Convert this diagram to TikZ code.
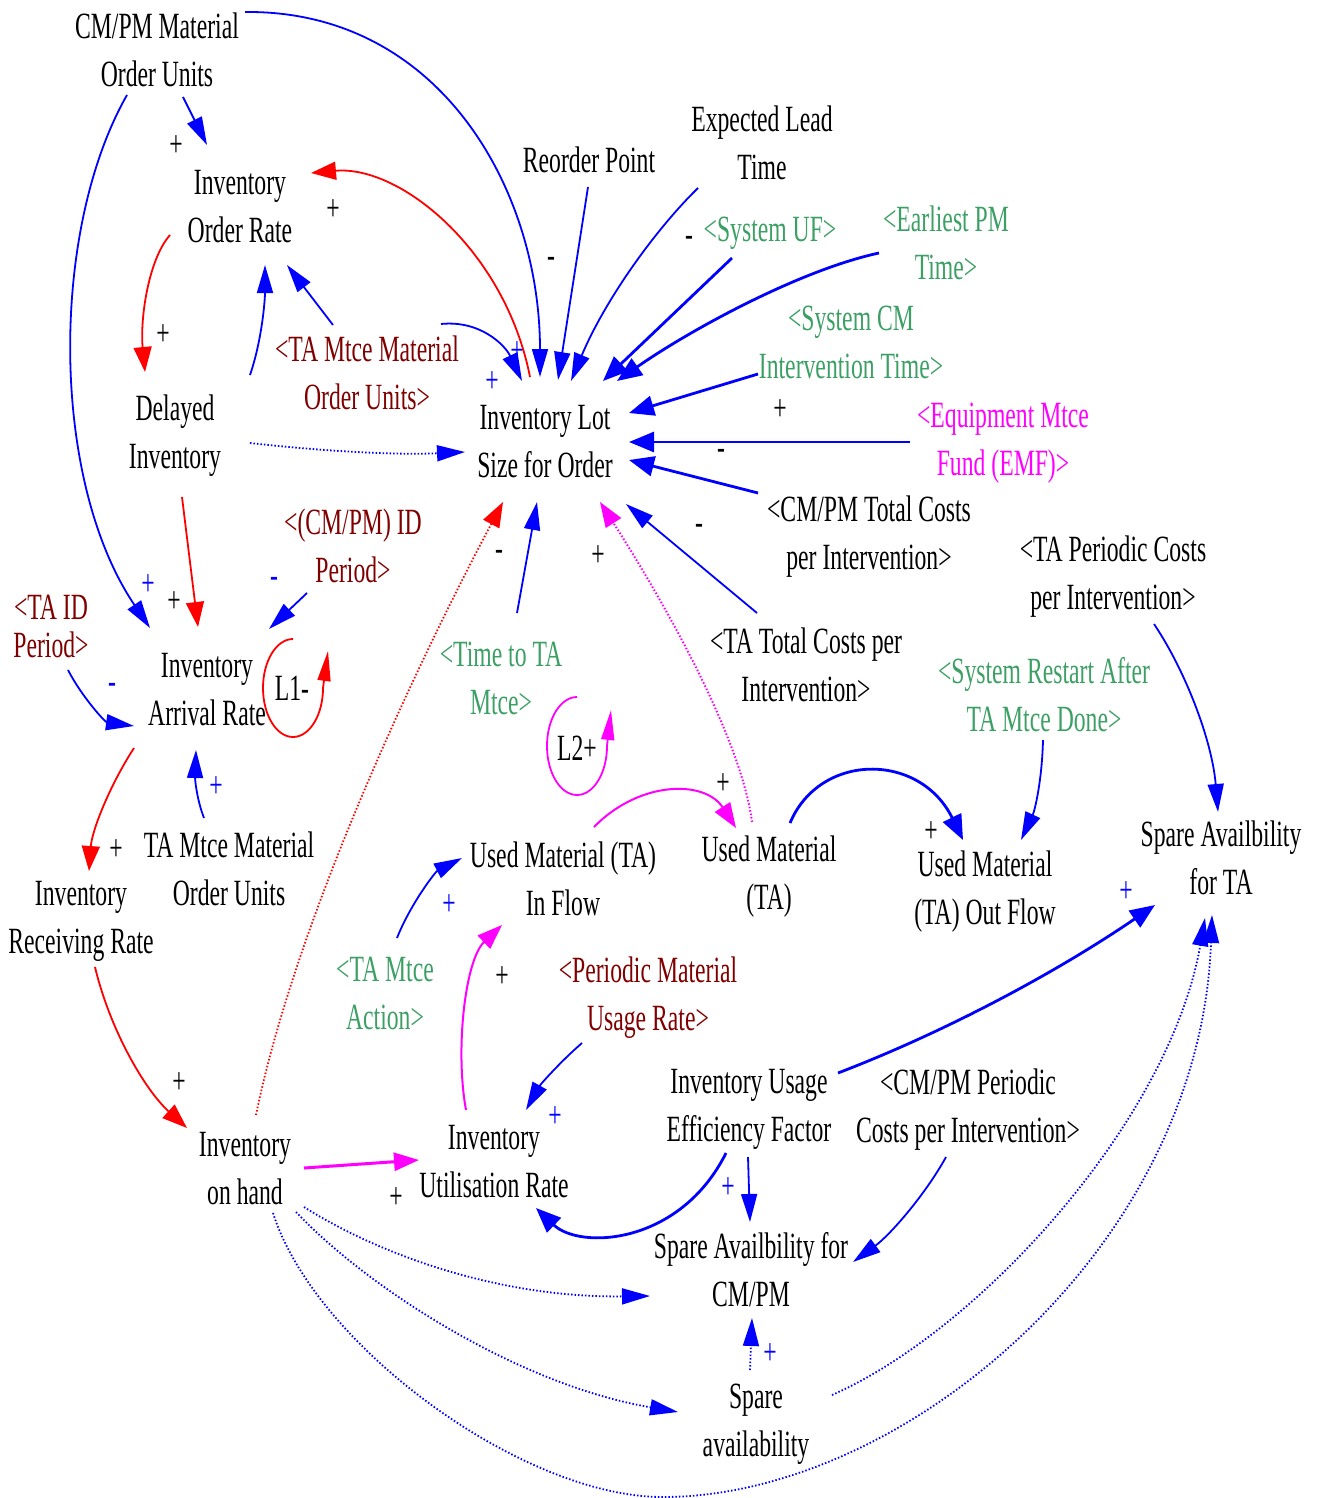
\documentclass[tikz,border=0pt]{standalone}
\usepackage{fontspec}
\setmainfont{Liberation Serif}[FakeStretch=0.64]
\usetikzlibrary{arrows.meta,calc}
\definecolor{shgreen}{RGB}{60,160,100}
\definecolor{shmaroon}{RGB}{128,0,0}
\definecolor{vmag}{RGB}{255,0,255}
\definecolor{vblue}{RGB}{0,0,255}
\definecolor{vred}{RGB}{255,0,0}
\begin{document}
\begin{tikzpicture}[x=1pt,y=-1pt,
  var/.style={align=center,inner sep=0pt,font=\fontsize{37}{48}\selectfont},
  sgn/.style={inner sep=0pt,font=\fontsize{37}{37}\selectfont},
  lk/.style={vblue,line width=1.8pt,-{Triangle[length=28pt,width=16pt]}},
  lkb/.style={vblue,line width=2.8pt,-{Triangle[length=25pt,width=20pt]}},
  lkr/.style={vred,line width=1.8pt,-{Triangle[length=25pt,width=18pt]}},
  lkm/.style={vmag,line width=2pt,-{Triangle[length=25pt,width=18pt]}},
  dotln/.style={dash pattern=on 1.5pt off 2pt},
  loopar/.style={line width=1.8pt,-{Triangle[length=30pt,width=13pt]}},
]
\useasboundingbox (0,0) rectangle (1317,1498);

% ---------- variables ----------
\node[var] (cmpmOU) at (157,50) {CM/PM Material\\Order Units};
\node[var] (invOR) at (240,207) {Inventory\\Order Rate};
\node[var] (reorder) at (589,160) {Reorder Point};
\node[var] (expLT) at (762,143) {Expected Lead\\Time};
\node[var,text=shgreen] (sysUF) at (770,233) {<System UF>};
\node[var,text=shgreen] (earlyPM) at (946,243) {<Earliest PM\\Time>};
\node[var,text=shgreen] (sysCM) at (851,342) {<System CM\\Intervention Time>};
\node[var,text=shmaroon] (taMMOUs) at (367,373) {<TA Mtce Material\\Order Units>};
\node[var] (delayed) at (175,436) {Delayed\\Inventory};
\node[var] (invLot) at (545,442) {Inventory Lot\\Size for Order};
\node[var,text=vmag] (emf) at (1003,443) {<Equipment Mtce\\Fund (EMF)>};
\node[var] (cmpmTC) at (869,537) {<CM/PM Total Costs\\per Intervention>};
\node[var] (taPC) at (1113,577) {<TA Periodic Costs\\per Intervention>};
\node[var,text=shmaroon] (cmpmID) at (353,546) {<(CM/PM) ID\\Period>};
\node[var,text=shmaroon,font=\fontsize{37}{38}\selectfont] (taID) at (51,626) {<TA ID\\Period>};
\node[var] (invAR) at (207,690) {Inventory\\Arrival Rate};
\node[var,text=shgreen] (timeTA) at (501,678) {<Time to TA\\Mtce>};
\node[var] (taTC) at (806,665) {<TA Total Costs per\\Intervention>};
\node[var,text=shgreen] (sysRestart) at (1044,695) {<System Restart After\\TA Mtce Done>};
\node[var] (taMMOU) at (229,869) {TA Mtce Material\\Order Units};
\node[var] (invRR) at (81,921) {Inventory\\Receiving Rate};
\node[var] (umIn) at (563,879) {Used Material (TA)\\In Flow};
\node[var] (um) at (769,877) {Used Material\\(TA)};
\node[var] (umOut) at (985,892) {Used Material\\(TA) Out Flow};
\node[var] (spareTA) at (1221,858) {Spare Availbility\\for TA};
\node[var,text=shgreen] (taAction) at (385,993) {<TA Mtce\\Action>};
\node[var,text=shmaroon] (periodic) at (648,998) {<Periodic Material\\Usage Rate>};
\node[var] (invOH) at (245,1169) {Inventory\\on hand};
\node[var] (invUR) at (494,1162) {Inventory\\Utilisation Rate};
\node[var] (iuef) at (749,1109) {Inventory Usage\\Efficiency Factor};
\node[var] (cmpmPC) at (968,1110) {<CM/PM Periodic\\Costs per Intervention>};
\node[var] (spareCM) at (751,1270) {Spare Availbility for\\CM/PM};
\node[var] (spareAv) at (756,1424) {Spare\\availability};
\node[var] (L1) at (292,688) {L1-};
\node[var] (L2) at (577,748) {L2+};

% ---------- causal links ----------
\draw[lk] ($(cmpmOU)+(26,47)$) -- ($(invOR)+(-33,-62)$);
\draw[lk] ($(cmpmOU)+(-30,45)$) .. controls (50,230) and (50,480) .. ($(invAR)+(-57,-62)$);
\draw[lk] ($(cmpmOU)+(88,-38)$) .. controls (440,10) and (540,190) .. ($(invLot)+(-5,-65)$);
\draw[lkr] ($(invLot)+(-15,-65)$) .. controls (505,250) and (400,165) .. ($(invOR)+(71,-34)$);
\draw[lkr] ($(invOR)+(-70,28)$) .. controls (148,260) and (140,320) .. ($(delayed)+(-30,-64)$);
\draw[lk] ($(delayed)+(75,-61)$) .. controls (262,340) and (265,300) .. ($(invOR)+(25,58)$);
\draw[lk] ($(taMMOUs)+(-34,-48)$) -- ($(invOR)+(47,58)$);
\draw[lk] ($(taMMOUs)+(74,-49)$) .. controls (480,320) and (505,345) .. ($(invLot)+(-23,-61)$);
\draw[lk] ($(reorder)+(-1,27)$) -- ($(invLot)+(13,-62)$);
\draw[lk] ($(expLT)+(-64,45)$) .. controls (655,230) and (605,300) .. ($(invLot)+(26,-61)$);
\draw[lkb] ($(sysUF)+(-38,25)$) -- ($(invLot)+(58,-61)$);
\draw[lkb] ($(earlyPM)+(-67,10)$) .. controls (800,270) and (690,330) .. ($(invLot)+(72,-61)$);
\draw[lkb] ($(sysCM)+(-93,32)$) -- ($(invLot)+(84,-29)$);
\draw[lkb] ($(emf)+(-93,-1)$) -- ($(invLot)+(84,0)$);
\draw[lkb] ($(cmpmTC)+(-111,-44)$) -- ($(invLot)+(84,18)$);
\draw[lk] ($(taTC)+(-49,-52)$) -- ($(invLot)+(81,62)$);
\draw[lk] ($(timeTA)+(16,-65)$) -- ($(invLot)+(-8,60)$);
\draw[lkr,dotln] ($(invOH)+(11,-54)$) .. controls (300,900) and (440,620) .. ($(invLot)+(-42,60)$);
\draw[lkm,dotln] ($(um)+(-17,-55)$) .. controls (740,730) and (650,580) .. ($(invLot)+(55,60)$);
\draw[lk,dotln] ($(delayed)+(75,7)$) .. controls (330,452) and (400,455) .. ($(invLot)+(-80,10)$);
\draw[lkr] ($(delayed)+(7,61)$) -- ($(invAR)+(-9,-63)$);
\draw[lk] ($(cmpmID)+(-46,47)$) -- ($(invAR)+(62,-61)$);
\draw[lk] ($(taID)+(17,44)$) .. controls (82,697) and (105,722) .. ($(invAR)+(-73,36)$);
\draw[lk] ($(taMMOU)+(-25,-51)$) .. controls (197,800) and (195,780) .. ($(invAR)+(-11,60)$);
\draw[lkr] ($(invAR)+(-73,58)$) .. controls (110,785) and (92,830) .. ($(invRR)+(8,-50)$);
\draw[lkr] ($(invRR)+(14,46)$) .. controls (110,1030) and (145,1090) .. ($(invOH)+(-58,-41)$);
\draw[lkm,line width=3pt] ($(invOH)+(59,-1)$) -- ($(invUR)+(-75,-2)$);
\draw[lkm] ($(invUR)+(-28,-52)$) .. controls (455,1050) and (465,960) .. ($(umIn)+(-61,46)$);
\draw[lk] ($(taAction)+(12,-55)$) .. controls (410,905) and (435,872) .. ($(umIn)+(-101,-21)$);
\draw[lkm] ($(umIn)+(31,-52)$) .. controls (640,780) and (705,780) .. ($(um)+(-33,-49)$);
\draw[lkb] ($(um)+(21,-54)$) .. controls (820,752) and (920,752) .. ($(umOut)+(-22,-52)$);
\draw[lk] ($(sysRestart)+(-1,45)$) .. controls (1042,780) and (1035,810) .. ($(umOut)+(36,-52)$);
\draw[lk] ($(taPC)+(41,47)$) .. controls (1185,670) and (1212,740) .. ($(spareTA)+(-3,-46)$);
\draw[lkb] ($(iuef)+(89,-36)$) .. controls (950,1030) and (1060,970) .. ($(spareTA)+(-66,47)$);
\draw[lk] ($(periodic)+(-66,45)$) .. controls (560,1062) and (540,1085) .. ($(invUR)+(32,-52)$);
\draw[lkb] ($(iuef)+(-23,44)$) .. controls (680,1245) and (580,1250) .. ($(invUR)+(42,46)$);
\draw[lk] ($(iuef)+(-1,48)$) -- ($(spareCM)+(-1,-48)$);
\draw[lk] ($(cmpmPC)+(-22,47)$) .. controls (925,1195) and (890,1235) .. ($(spareCM)+(102,-8)$);
\draw[lk,dotln] ($(invOH)+(59,38)$) .. controls (380,1255) and (500,1298) .. ($(spareCM)+(-101,26)$);
\draw[lk,dotln] ($(invOH)+(51,43)$) .. controls (370,1290) and (520,1385) .. ($(spareAv)+(-78,-12)$);
\draw[lk,dotln] ($(invOH)+(28,44)$) .. controls (315,1345) and (520,1495) .. (660,1497)
   .. controls (900,1499) and (1200,1250) .. ($(spareTA)+(-9,57)$);
\draw[lk,dotln] ($(spareAv)+(-6,-54)$) -- ($(spareCM)+(1,48)$);
\draw[lk,dotln] ($(spareAv)+(76,-29)$) .. controls (980,1330) and (1170,1120) .. ($(spareTA)+(-16,60)$);

% ---------- loop markers ----------
\draw[loopar,vred] ($(L1)+(1,-49)$) arc[start angle=270,end angle=0,x radius=30,y radius=49] -- ++(5,-37);
\draw[loopar,vmag] ($(L2)+(0,-51)$) arc[start angle=270,end angle=0,x radius=30,y radius=49] -- ++(4,-36);

% ---------- polarity signs ----------
\node[sgn] (s1) at (176,146) {+};
\node[sgn] (s2) at (333,210) {+};
\node[sgn] (s3) at (163,335) {+};
\node[sgn] (s4) at (551,262) {-};
\node[sgn] (s5) at (689,241) {-};
\node[sgn] (s6) at (780,410) {+};
\node[sgn] (s7) at (721,454) {-};
\node[sgn] (s8) at (699,529) {-};
\node[sgn] (s9) at (499,555) {-};
\node[sgn] (s10) at (598,556) {+};
\node[sgn] (s11) at (174,602) {+};
\node[sgn] (s12) at (116,850) {+};
\node[sgn] (s13) at (723,784) {+};
\node[sgn] (s14) at (931,832) {+};
\node[sgn] (s15) at (502,977) {+};
\node[sgn] (s16) at (179,1083) {+};
\node[sgn] (s17) at (396,1198) {+};
\node[sgn,text=vblue] (b1) at (148,585) {+};
\node[sgn,text=vblue] (b2) at (492,382) {+};
\node[sgn,text=vblue] (b3) at (517,352) {+};
\node[sgn,text=vblue] (b4) at (112,688) {-};
\node[sgn,text=vblue] (b5) at (274,582) {-};
\node[sgn,text=vblue] (b6) at (216,787) {+};
\node[sgn,text=vblue] (b7) at (449,905) {+};
\node[sgn,text=vblue] (b8) at (555,1117) {+};
\node[sgn,text=vblue] (b9) at (728,1188) {+};
\node[sgn,text=vblue] (b10) at (770,1354) {+};
\node[sgn,text=vblue] (b11) at (1126,892) {+};
\end{tikzpicture}
\end{document}
